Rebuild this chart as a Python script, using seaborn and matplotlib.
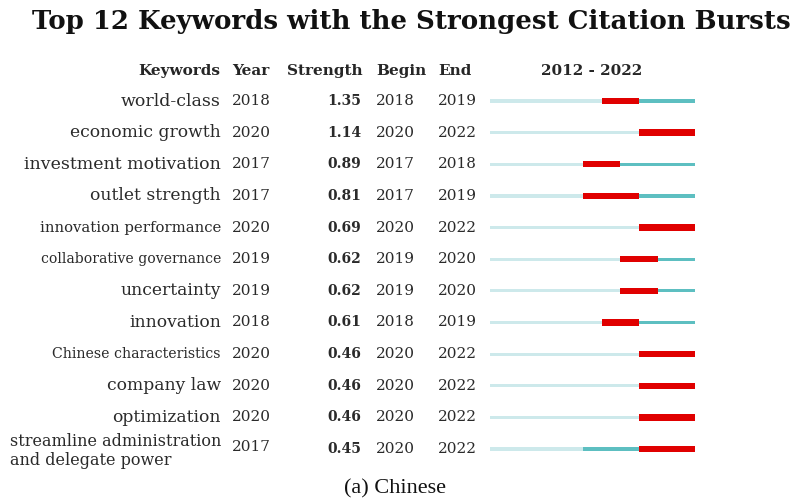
import matplotlib
matplotlib.use("Agg")
import matplotlib.pyplot as plt
import matplotlib.transforms as mtransforms
import seaborn as sns

keywords = ["world-class", "economic growth", "investment motivation", "outlet strength",
            "innovation performance", "collaborative governance", "uncertainty", "innovation",
            "Chinese characteristics", "company law", "optimization",
            "streamline administration\nand delegate power"]
years = [2018, 2020, 2017, 2017, 2020, 2019, 2019, 2018, 2020, 2020, 2020, 2017]
strengths = [1.35, 1.14, 0.89, 0.81, 0.69, 0.62, 0.62, 0.61, 0.46, 0.46, 0.46, 0.45]
begins = [2018, 2020, 2017, 2017, 2020, 2019, 2019, 2018, 2020, 2020, 2020, 2020]
ends = [2019, 2022, 2018, 2019, 2022, 2020, 2020, 2019, 2022, 2022, 2022, 2022]
start_year, end_year = 2012, 2022

kw_sizes = [12.5, 12.3, 12.5, 12.3, 10.7, 10.1, 12.3, 12.3, 10.2, 12.3, 12.3, 11.5]

sns.set_theme(style="white")
plt.rcParams['font.family'] = ['DejaVu Serif']

W, H = 803, 503
fig = plt.figure(figsize=(W / 100, H / 100), dpi=100)
fig.patch.set_facecolor("white")

n = len(keywords)
row_px = 31.64
top_px = 101 - row_px / 2
ax = fig.add_axes([490 / W, 1 - (top_px + n * row_px) / H, (695 - 490) / W, n * row_px / H])
ax.set_xlim(start_year, end_year + 1)
ax.set_ylim(n - 0.5, -0.5)
ax.axis("off")

light, teal, red = "#cde9eb", "#5dbfc1", "#e00000"
rows = list(range(n))
ax.barh(rows, [end_year + 1 - start_year] * n, left=start_year, height=0.1, color=light, linewidth=0)
ax.barh(rows, [end_year + 1 - y for y in years], left=years, height=0.1, color=teal, linewidth=0)
ax.barh(rows, [e + 1 - b for b, e in zip(begins, ends)], left=begins, height=0.2, color=red, linewidth=0)

tr = mtransforms.blended_transform_factory(fig.transFigure, ax.transData)
txt_color = "#2a2a2a"
for i in rows:
    fs = kw_sizes[i]
    if "\n" in keywords[i]:
        ax.text(10 / W, i + 0.06, keywords[i], transform=tr, ha="left", va="center",
                fontsize=fs, color=txt_color, linespacing=1.2)
        dy = -0.08
    else:
        ax.text(221 / W, i, keywords[i], transform=tr, ha="right", va="center",
                fontsize=fs, color=txt_color)
        dy = 0
    ax.text(232 / W, i + dy, str(years[i]), transform=tr, ha="left", va="center", fontsize=11, color=txt_color)
    ax.text(361 / W, i, f"{strengths[i]:.2f}", transform=tr, ha="right", va="center",
            fontsize=10, fontweight="bold", color=txt_color)
    ax.text(376 / W, i, str(begins[i]), transform=tr, ha="left", va="center", fontsize=11, color=txt_color)
    ax.text(438 / W, i, str(ends[i]), transform=tr, ha="left", va="center", fontsize=11, color=txt_color)

hy = 1 - 71 / H
hfs = 11
fig.text(220 / W, hy, "Keywords", ha="right", va="center", fontsize=hfs, fontweight="bold")
fig.text(232 / W, hy, "Year", ha="left", va="center", fontsize=hfs, fontweight="bold")
fig.text(287 / W, hy, "Strength", ha="left", va="center", fontsize=hfs, fontweight="bold")
fig.text(376 / W, hy, "Begin", ha="left", va="center", fontsize=hfs, fontweight="bold")
fig.text(438 / W, hy, "End", ha="left", va="center", fontsize=hfs, fontweight="bold")
fig.text(592 / W, hy, f"{start_year} - {end_year}", ha="center", va="center", fontsize=hfs, fontweight="bold")

fig.text(411 / W, 1 - 22 / H, "Top 12 Keywords with the Strongest Citation Bursts",
         ha="center", va="center", fontsize=18.7, fontweight="bold", color="#111111")
fig.text(395 / W, 1 - 489 / H, "(a) Chinese", ha="center", va="center", fontsize=16,
         color="#111111", family="Liberation Serif")

fig.savefig("out.png", dpi=100, facecolor="white")
